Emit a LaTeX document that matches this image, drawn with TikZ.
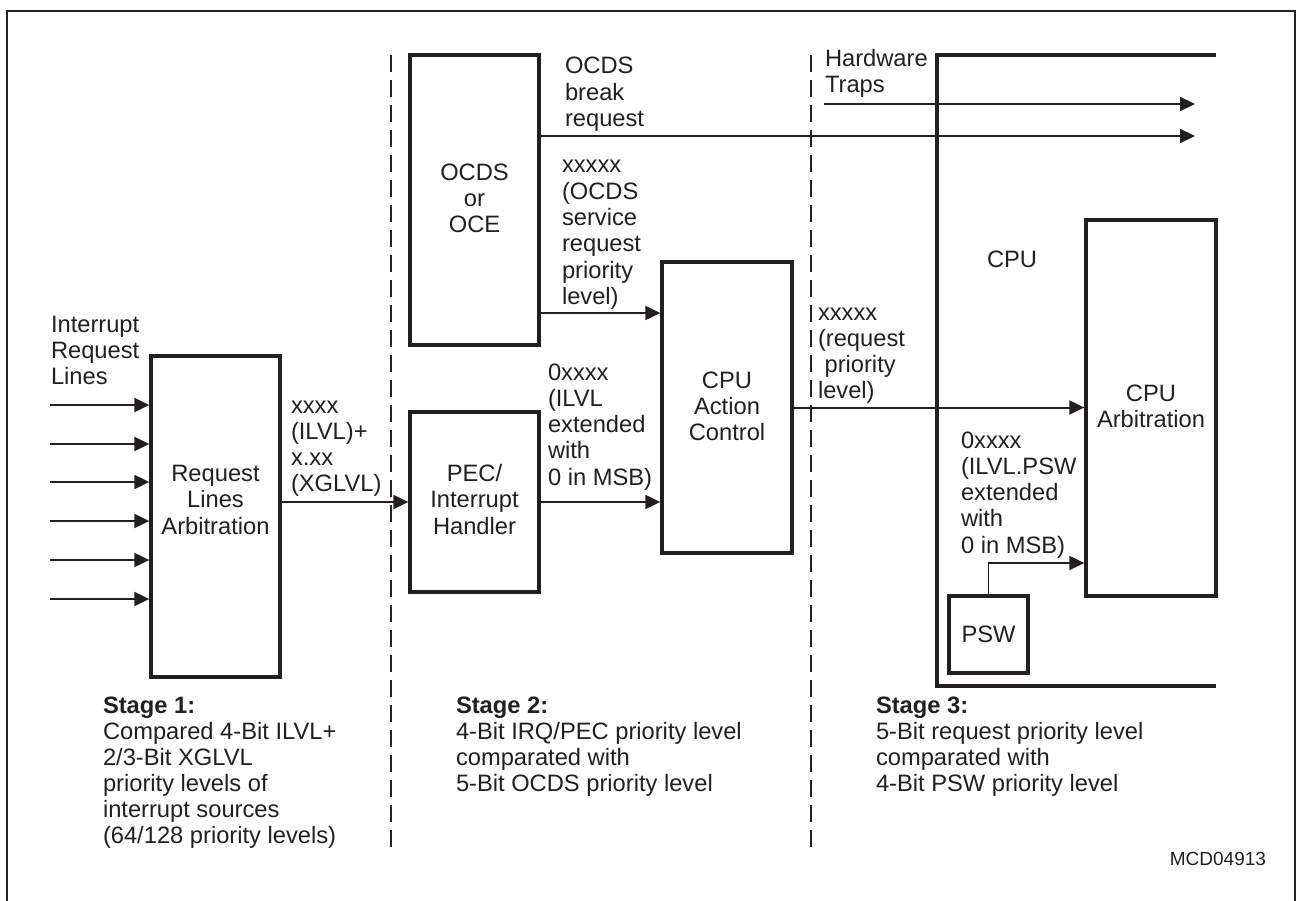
\documentclass[tikz,border=0pt]{standalone}
\usepackage{fontspec}
\setmainfont{Liberation Sans}
\usetikzlibrary{arrows.meta}
\definecolor{ink}{RGB}{35,31,32}
\begin{document}
\begin{tikzpicture}[x=1pt,y=-1pt,
  box/.style={draw=ink, line width=3.3pt, inner sep=0pt, minimum width=#1},
  box/.default=129pt,
  arr/.style={draw=ink, line width=2pt, -{Triangle[length=15pt,width=14pt]}},
  thinarr/.style={draw=ink, line width=1.6pt, -{Triangle[length=15pt,width=14pt]}},
  stagesep/.style={draw=ink, line width=1.8pt, dash pattern=on 17pt off 8pt},
  frameline/.style={draw=ink, line width=2pt},
  cpuframe/.style={draw=ink, line width=3.3pt},
  lbl/.style={inner sep=0pt, outer sep=0pt, text=ink, font=\fontsize{23.7pt}{26.3pt}\selectfont, align=left, anchor=base west},
  clbl/.style={lbl, align=center, anchor=base},
  stagetxt/.style={lbl, font=\fontsize{23.7pt}{26pt}\selectfont}
]
\useasboundingbox (0,0) rectangle (1297,901);
% outer frame
\draw[frameline] (7,901) -- (7,11) -- (1295,11) -- (1295,901);
% stage separators
\draw[stagesep] (391,55) -- (391,852);
\draw[stagesep] (811,55) -- (811,852);
% CPU frame
\draw[cpuframe] (1216,55) -- (937,55) -- (937,686) -- (1216,686);
% boxes
\node[box, minimum height=321pt] (rla) at (215.5,516.5) {};
\node[box, minimum height=180pt] (pec) at (474.5,502) {};
\node[box, minimum height=290pt] (ocds) at (474.5,200) {};
\node[box=130pt, minimum height=291pt] (cac) at (727,407.5) {};
\node[box=130pt, minimum height=376pt] (carb) at (1151,408) {};
\node[box=79pt, minimum height=77pt] (psw) at (988.5,634.5) {};
% box texts (anchor = baseline of last line)
\node[clbl] (trla) at (215.5,534) {Request\\Lines\\Arbitration};
\node[clbl] (tpec) at (474.5,534) {PEC/\\Interrupt\\Handler};
\node[clbl] (tocds) at (474.5,232.6) {OCDS\\or\\OCE};
\node[clbl] (tcac) at (727,440.6) {CPU\\Action\\Control};
\node[clbl] (tcarb) at (1151,427.3) {CPU\\Arbitration};
\node[clbl] (tpsw) at (988.5,642) {PSW};
\node[lbl] (tcpu) at (987,267) {CPU};
% input arrows
\foreach \yy [count=\i] in {405,444,482,521,560,599} {
  \coordinate (in\i) at (50,\yy);
  \draw[arr] (in\i) -- (in\i -| rla.west);
}
\node[lbl] (tirl) at (51,384.6) {Interrupt\\Request\\Lines};
% stage 1 -> stage 2
\draw[arr] (pec.west -| rla.east) -- (pec.west);
\node[lbl] (tl1) at (291,491.9) {xxxx\\(ILVL)+\\x.xx\\(XGLVL)};
% OCDS break request
\coordinate (brk) at (1195,136);
\draw[arr] (ocds.east |- brk) -- (brk);
\node[lbl] (tbrk) at (565,126.6) {OCDS\\break\\request};
% hardware traps
\coordinate (hw0) at (824,104);
\coordinate (hw1) at (1195,104);
\draw[arr] (hw0) -- (hw1);
\node[lbl] (thw) at (825,92.8) {Hardware\\Traps};
% OCDS -> CPU action control
\coordinate (oc) at (0,313);
\draw[arr] (ocds.east |- oc) -- (cac.west |- oc);
\node[lbl] (toc) at (562,304.5) {xxxxx\\(OCDS\\service\\request\\priority\\level)};
% PEC -> CPU action control
\draw[arr] (pec.east) -- (pec.east -| cac.west);
\node[lbl] (tpc) at (548,485.2) {0xxxx\\(ILVL\\extended\\with\\0 in MSB)};
% CPU action control -> CPU arbitration
\draw[arr] (cac.east) -- (cac.east -| carb.west);
\node[lbl] (tca) at (818,398.9) {xxxxx\\(request\\\ priority\\level)};
% PSW -> CPU arbitration
\coordinate (pk) at (0,563);
\draw[thinarr] (psw.north) -- (psw.north |- pk) -- (carb.west |- pk);
\node[lbl] (tps) at (961,553.2) {0xxxx\\(ILVL.PSW\\extended\\with\\0 in MSB)};
% stage descriptions
\node[stagetxt] (s1) at (103,843) {\textbf{Stage 1:}\\Compared 4-Bit ILVL+\\2/3-Bit XGLVL\\priority levels of\\interrupt sources\\(64/128 priority levels)};
\node[stagetxt] (s2) at (456,791) {\textbf{Stage 2:}\\4-Bit IRQ/PEC priority level\\comparated with\\5-Bit OCDS priority level};
\node[stagetxt] (s3) at (876,791) {\textbf{Stage 3:}\\5-Bit request priority level\\comparated with\\4-Bit PSW priority level};
\node[lbl, anchor=base east, font=\fontsize{19pt}{22pt}\selectfont] (mcd) at (1266,865) {MCD04913};
\end{tikzpicture}
\end{document}
